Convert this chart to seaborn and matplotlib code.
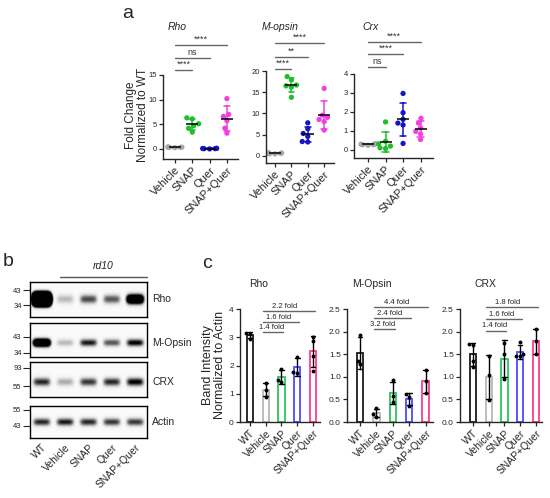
import numpy as np
import pandas as pd
import matplotlib
matplotlib.use("Agg")
import matplotlib.pyplot as plt
import seaborn as sns
from matplotlib.ticker import FormatStrFormatter

# ---------- panel a: qPCR fold change (n=6 per group) ----------
groups_a = ["Vehicle", "SNAP", "Quer", "SNAP+Quer"]
colors_a = ["#a6a6a6", "#1fbf2a", "#1414c8", "#f23fe0"]

rho_qpcr = [[0.3, 0.35, 0.25, 0.4, 0.3, 0.35],
            [6.3, 6.1, 5.1, 4.7, 4.2, 3.4],
            [0.05, 0.1, 0.0, 0.08, 0.12, 0.05],
            [10.2, 7.0, 6.6, 5.75, 4.2, 3.2]]
mopsin_qpcr = [[0.5, 0.7, 0.6, 0.8, 0.5, 0.6],
               [18.7, 17.9, 16.7, 16.5, 16.2, 13.8],
               [7.8, 6.4, 5.3, 4.6, 3.4, 3.3],
               [15.9, 9.6, 9.1, 8.6, 8.1, 6.1]]
crx_qpcr = [[0.25, 0.3, 0.22, 0.28, 0.3, 0.25],
            [1.46, 0.44, 0.3, 0.18, 0.09, 0.05],
            [2.97, 1.95, 1.6, 1.4, 1.3, 0.32],
            [1.65, 1.4, 1.14, 0.96, 0.82, 0.53]]

rho_sig = ["****", "ns", "****"]
mopsin_sig = ["****", "**", "****"]
crx_sig = ["ns", "****", "****"]

# ---------- panel b: western blot band intensities ----------
lanes = ["WT", "Vehicle", "SNAP", "Quer", "SNAP+Quer"]
rho_bands = [25.0, 0.35, 0.75, 0.7, 2.2]
mopsin_bands = [2.5, 0.35, 0.9, 0.7, 1.0]
crx_bands = [0.85, 0.4, 0.8, 0.85, 1.0]
actin_bands = [0.85, 0.9, 0.85, 0.8, 0.8]
rho_mw = ["43", "34"]
mopsin_mw = ["43", "34"]
crx_mw = ["93", "55"]
actin_mw = ["55", "43"]

# ---------- panel c: band intensity normalized to actin ----------
groups_c = ["WT", "Vehicle", "SNAP", "Quer", "SNAP+Quer"]
colors_c = ["#1a1a1a", "#b8b8b8", "#2fc45e", "#4a4aff", "#ff3d8e"]

rho_wb = [[3.15, 3.1, 2.95], [1.38, 1.15, 0.9], [1.88, 1.5, 1.42],
          [2.3, 1.78, 1.72], [3.0, 2.85, 1.8, 2.35]]
mopsin_wb = [[1.93, 1.35, 1.28], [0.3, 0.18, 0.12], [0.92, 0.58, 0.45],
             [0.62, 0.56, 0.35], [1.15, 0.9, 0.65]]
crx_wb = [[1.73, 1.7, 1.35, 1.22], [1.45, 1.05, 0.48], [1.75, 1.5, 0.95],
          [1.78, 1.5, 1.45, 1.47], [2.05, 1.8, 1.5]]

rho_fold = ["1.4 fold", "1.6 fold", "2.2 fold"]
mopsin_fold = ["3.2 fold", "2.4 fold", "4.4 fold"]
crx_fold = ["1.4 fold", "1.6 fold", "1.8 fold"]

sns.set_style("ticks")
plt.rcParams["font.family"] = ["Liberation Sans", "DejaVu Sans"]

W, H = 550, 498
fig = plt.figure(figsize=(W / 100, H / 100), dpi=100)


def rect(x0, y0, x1, y1):
    return [x0 / W, 1 - y1 / H, (x1 - x0) / W, (y1 - y0) / H]


def long_df(groups, values):
    return pd.DataFrame({"group": np.repeat(groups, [len(v) for v in values]),
                         "val": np.concatenate(values)})


def style_ax(ax, ytick_size):
    sns.despine(ax=ax)
    for s in ["left", "bottom"]:
        ax.spines[s].set_linewidth(1.0)
    ax.tick_params(axis="both", length=3, width=0.9, pad=1.5)
    ax.tick_params(axis="y", labelsize=ytick_size)
    ax.set_xlabel("")
    ax.set_ylabel("")


def rotate_labels(ax, labels, size):
    ax.set_xticks(range(len(labels)))
    ax.set_xticklabels(labels, rotation=45, ha="right", rotation_mode="anchor", fontsize=size)


def scatter_panel(box, values, ylim, xlim, yticks, sig, sig_y):
    ax = fig.add_axes(rect(*box))
    df = long_df(groups_a, values)
    sns.swarmplot(data=df, x="group", y="val", hue="group", palette=colors_a,
                  size=3.8, ax=ax, legend=False, zorder=2)
    sns.pointplot(data=df, x="group", y="val", hue="group", palette=colors_a,
                  errorbar="sd", capsize=0.35, linestyle="none", markersize=0,
                  err_kws={"linewidth": 1.1, "zorder": 3}, ax=ax, legend=False)
    sns.pointplot(data=df, x="group", y="val", errorbar=None, color="black",
                  marker="_", markersize=8, markeredgewidth=1.1, linestyle="none",
                  ax=ax, zorder=4)
    ax.set_ylim(*ylim)
    ax.set_xlim(*xlim)
    ax.set_yticks(yticks)
    style_ax(ax, 5.5)
    rotate_labels(ax, groups_a, 8)
    for j, (lab, yy) in enumerate(zip(sig, sig_y)):
        ax.plot([0, j + 1], [yy, yy], color="#666666", lw=1.0, clip_on=False)
        ax.text((j + 1) / 2, yy + (ylim[1] - ylim[0]) * 0.012, lab, ha="center",
                va="bottom", fontsize=6.5, color="#333333", clip_on=False)
    return ax


scatter_panel((163, 75, 238, 159), rho_qpcr, (-2.05, 15), (-0.69, 3.64),
              [0, 5, 10, 15], rho_sig, [16.0, 18.5, 21.1])
scatter_panel((266, 71, 334, 163), mopsin_qpcr, (-1.65, 20), (-0.55, 3.6),
              [0, 5, 10, 15, 20], mopsin_sig, [20.5, 23.3, 26.6])
scatter_panel((354, 74, 433, 158), crx_qpcr, (-0.45, 4), (-0.8, 3.71),
              [0, 1, 2, 3, 4], crx_sig, [4.37, 5.05, 5.69])

for x, t in zip([168, 262, 362], ["Rho", "M-opsin", "Crx"]):
    fig.text(x / W, 1 - 27 / H, t, fontsize=7.5, style="italic", va="center")
fig.text(137 / W, 1 - 115 / H, "Fold Change\nNormalized to WT", rotation=90,
         ha="center", va="center", fontsize=8.5, linespacing=1.0)


# ---------- western blots ----------
def blot(box, bands, band_pos, band_sigma, mw, mw_pos, name, bottom=False):
    ax = fig.add_axes(rect(*box))
    rows = np.linspace(0, 1, 90)[:, None]
    cols = np.linspace(-0.5, 4.5, 300)[None, :]
    img = np.full((90, 300), 0.04)
    for i, a in enumerate(bands):
        img = img + a * np.exp(-np.abs((cols - i) / 0.37) ** 5) \
            * np.exp(-((rows - band_pos) / band_sigma) ** 2)
    ax.imshow(np.clip(img, 0, 1), cmap="Greys", vmin=0, vmax=1,
              extent=[-0.5, 4.5, 1, 0], aspect="auto", interpolation="bilinear")
    ax.set_xlim(-0.5, 4.5)
    ax.set_ylim(1, 0)
    for s in ax.spines.values():
        s.set_linewidth(1.0)
        s.set_color("black")
    ax.set_yticks(mw_pos)
    ax.set_yticklabels(mw, fontsize=5.5)
    ax.tick_params(axis="y", length=5, width=0.8, pad=1)
    ax.text(4.72, band_pos, name, fontsize=7.5, va="center", ha="left")
    if bottom:
        ax.set_xticks(range(len(lanes)))
        ax.set_xticklabels(lanes, rotation=45, ha="right", rotation_mode="anchor",
                           fontsize=7.5)
        ax.tick_params(axis="x", length=0, pad=3)
    else:
        ax.set_xticks([])
    return ax


ax_rho_b = blot((30, 282, 147, 317), rho_bands, 0.49, 0.13, rho_mw, [0.23, 0.66], "Rho")
blot((30, 323, 147, 357), mopsin_bands, 0.58, 0.11, mopsin_mw, [0.41, 0.88], "M-Opsin")
blot((30, 362, 147, 397), crx_bands, 0.57, 0.12, crx_mw, [0.17, 0.69], "CRX")
blot((30, 406, 147, 438), actin_bands, 0.5, 0.12, actin_mw, [0.125, 0.625], "Actin",
     bottom=True)
ax_rho_b.plot([0.78, 4.5], [-0.15, -0.15], color="#555555", lw=1.0, clip_on=False)
ax_rho_b.text(2.64, -0.32, "rd10", style="italic", fontsize=7.5, ha="center",
              va="bottom")


# ---------- panel c bars ----------
def bar_panel(box, values, ylim, xlim, yticks, fmt, folds, fold_y):
    ax = fig.add_axes(rect(*box))
    df = long_df(groups_c, values)
    sns.barplot(data=df, x="group", y="val", hue="group", palette=colors_c,
                fill=False, width=0.4, errorbar="sd", capsize=0.3, linewidth=1.3,
                err_kws={"color": "black", "linewidth": 1.0}, ax=ax, legend=False)
    sns.swarmplot(data=df, x="group", y="val", color="black", size=2.8, ax=ax,
                  zorder=4)
    ax.set_ylim(*ylim)
    ax.set_xlim(*xlim)
    ax.set_yticks(yticks)
    ax.yaxis.set_major_formatter(FormatStrFormatter(fmt))
    style_ax(ax, 6)
    rotate_labels(ax, groups_c, 7.5)
    for j, (lab, yy) in enumerate(zip(folds, fold_y)):
        x0, x1 = 0.85, j + 2.12
        ax.plot([x0, x1], [yy, yy], color="#666666", lw=1.0, clip_on=False)
        ax.text(x0 + 0.42 * (x1 - x0), yy + (ylim[1] - ylim[0]) * 0.012, lab,
                ha="center", va="bottom", fontsize=5.5, color="#222222",
                clip_on=False)
    return ax


bar_panel((240, 309, 320, 422), rho_wb, (0, 4), (-0.63, 4.45), [0, 1, 2, 3, 4],
          "%d", rho_fold, [3.19, 3.54, 3.93])
bar_panel((347, 309, 433, 422), mopsin_wb, (0, 2.5), (-0.79, 4.45),
          [0, 0.5, 1.0, 1.5, 2.0, 2.5], "%.1f", mopsin_fold, [2.06, 2.30, 2.54])
bar_panel((460, 309, 542, 422), crx_wb, (0, 2.5), (-0.83, 4.4),
          [0, 0.5, 1.0, 1.5, 2.0, 2.5], "%.1f", crx_fold, [2.02, 2.28, 2.54])

for x, t in zip([259, 372, 485], ["Rho", "M-Opsin", "CRX"]):
    fig.text(x / W, 1 - 284 / H, t, fontsize=7.5, ha="center", va="center")
fig.text(214 / W, 1 - 365 / H, "Band Intensity\nNormalized to Actin", rotation=90,
         ha="center", va="center", fontsize=9, linespacing=1.0)

for (x, y), t in zip([(128, 13), (8, 262), (207, 263)], ["a", "b", "c"]):
    fig.text(x / W, 1 - y / H, t, fontsize=14, ha="center", va="center")

fig.savefig("out.png", dpi=100)
